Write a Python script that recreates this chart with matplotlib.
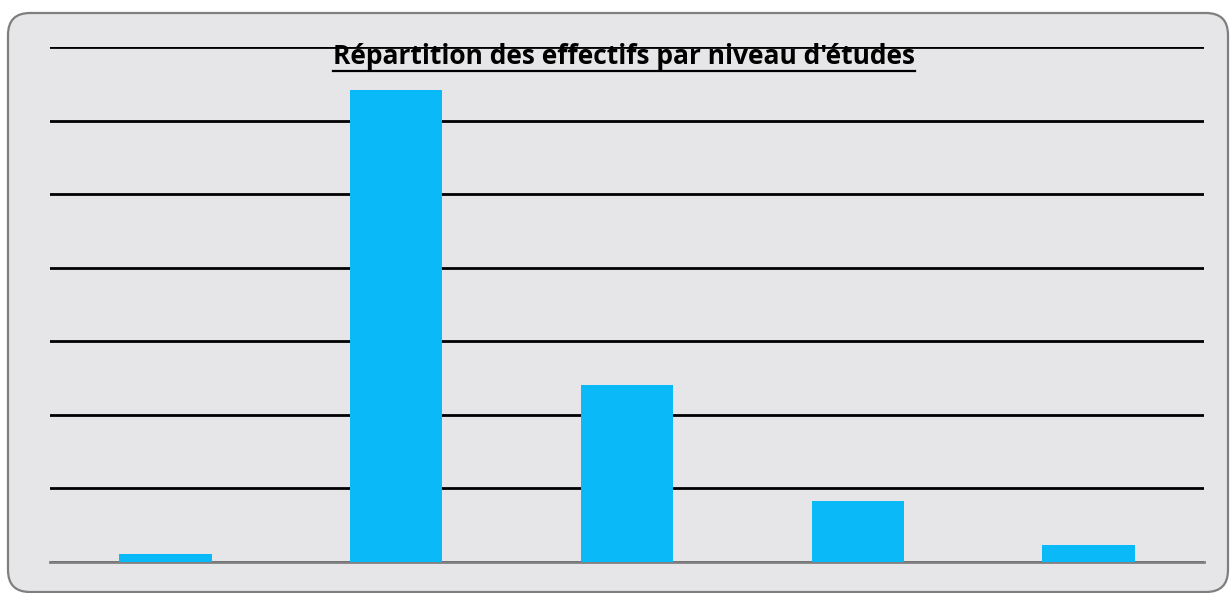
import matplotlib
matplotlib.use('Agg')
import matplotlib.pyplot as plt
from matplotlib.patches import FancyBboxPatch
from matplotlib.transforms import IdentityTransform

# niveaux d'etudes (etiquettes non affichees sur le graphique d'origine)
categories = ['Niveau 1', 'Niveau 2', 'Niveau 3', 'Niveau 4', 'Niveau 5']
effectifs = [1.1, 64.2, 24.1, 8.3, 2.3]
grid_ticks = [0, 10, 20, 30, 40, 50, 60, 70]

W, H = 1232, 593
fig = plt.figure(figsize=(W / 100, H / 100), dpi=100)
fig.patch.set_facecolor('white')

# cadre arrondi (en pixels)
frame = FancyBboxPatch((8, 1), 1220, 579,
                       boxstyle='round,pad=0,rounding_size=22',
                       transform=IdentityTransform(), facecolor='#e6e6e8',
                       edgecolor='#7f7f7f', linewidth=1.6, zorder=-1)
fig.add_artist(frame)

ax = fig.add_axes([50 / W, 31 / H, 1154 / W, 515 / H])
ax.set_zorder(1)
ax.set_facecolor('none')
x = list(range(len(categories)))
ax.bar(x, effectifs, width=0.4, color='#0abaf8', zorder=3)

ax.set_xlim(-0.5, len(categories) - 0.5)
ax.set_ylim(0, 70)
ax.set_yticks(grid_ticks)
ax.set_xticks(x)
ax.set_xticklabels([])
ax.set_yticklabels([])
ax.tick_params(length=0)
ax.yaxis.grid(True, color='black', linewidth=2, zorder=1)
ax.set_axisbelow(True)
for s in ['top', 'right', 'left']:
    ax.spines[s].set_visible(False)
ax.spines['bottom'].set_color('#808080')
ax.spines['bottom'].set_linewidth(2)

t = fig.text(624 / W, 1 - 56 / H, "Répartition des effectifs par niveau d'études",
             ha='center', va='center', fontsize=19, fontweight='bold',
             family=['Open Sans', 'DejaVu Sans'], zorder=5)
# soulignement du titre
fig.canvas.draw()
bb = t.get_window_extent()
y_line = (bb.y0 - 1) / H
fig.add_artist(plt.Line2D([bb.x0 / W, bb.x1 / W], [y_line, y_line],
                          transform=fig.transFigure, color='black',
                          linewidth=1.6, zorder=5))

fig.savefig('out.png', dpi=100)
